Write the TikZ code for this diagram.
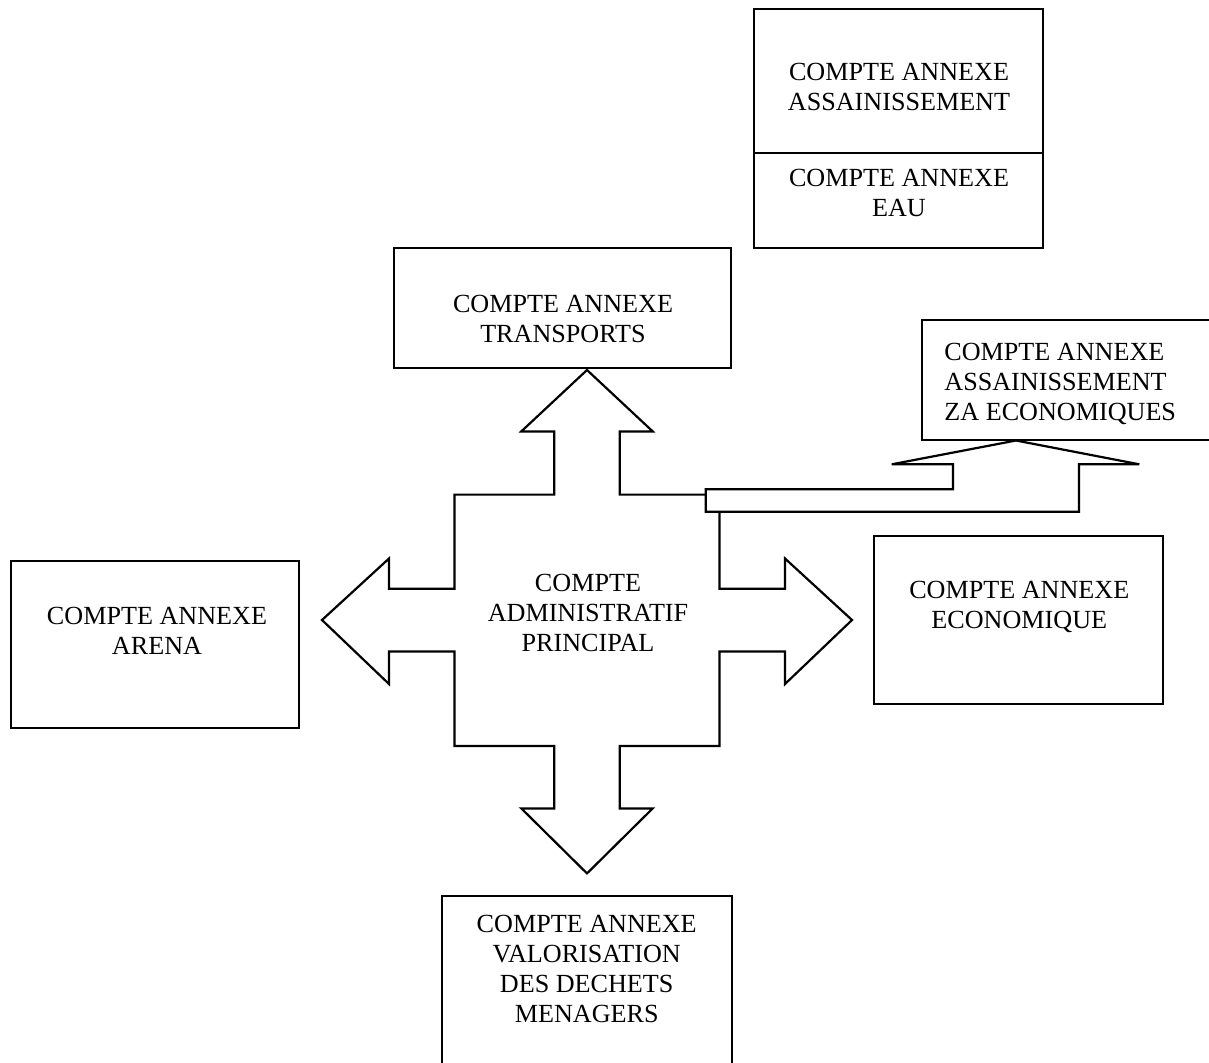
\documentclass[tikz,border=0pt]{standalone}
\usepackage{fontspec}
\setmainfont{Liberation Serif}
\begin{document}
\begin{tikzpicture}[x=0.5pt,y=-0.5pt,
  line width=1.1pt, line join=miter,
  every node/.style={inner sep=0pt, font=\fontsize{13.07pt}{15pt}\selectfont},
  lbl/.style={align=center},
  lblleft/.style={align=left, anchor=north west},
  boxline/.style={draw=black}]
\path[use as bounding box, clip] (0,0) rectangle (1209,1062);
\fill[white] (0,0) rectangle (1209,1062);

% boxes
\draw[boxline] (754,9) rectangle (1043,248);
\draw[boxline] (754,153) -- (1043,153);
\draw[boxline] (394,248) rectangle (731,368);
\draw[boxline] (922,320) rectangle (1225,440);
\draw[boxline] (11,561) rectangle (299,728);
\draw[boxline] (874,536) rectangle (1163,704);
\draw[boxline] (442,896) rectangle (732,1080);

% central cross arrow
\draw[fill=white] (587,370) -- (652.7,431.4) -- (619.7,431.4) -- (619.7,494.6)
  -- (719.5,494.6) -- (719.5,588.7) -- (785,588.7) -- (785,558.5) -- (852,620)
  -- (785,684) -- (785,651.5) -- (719.5,651.5) -- (719.5,746) -- (619.7,746)
  -- (619.7,808.4) -- (652.7,808.4) -- (587,873.4) -- (521.3,808.4)
  -- (554.3,808.4) -- (554.3,746) -- (454.5,746) -- (454.5,651.5) -- (389,651.5)
  -- (389,684) -- (322,620) -- (389,558.5) -- (389,588.7) -- (454.5,588.7)
  -- (454.5,494.6) -- (554.3,494.6) -- (554.3,431.4) -- (521.3,431.4) -- cycle;

% bent arrow to ZA box
\draw[fill=white] (705.7,489.3) -- (953,489.3) -- (953,464.3) -- (891.7,464.3)
  -- (1016,440.5) -- (1139.3,464.3) -- (1079,464.3) -- (1079,511.7)
  -- (705.7,511.7) -- cycle;

% texts
\node[lbl] (assain) at (899,86.5) {COMPTE ANNEXE\\ASSAINISSEMENT};
\node[lbl] (eau) at (899,193) {COMPTE ANNEXE\\EAU};
\node[lbl] (transp) at (563,319) {COMPTE ANNEXE\\TRANSPORTS};
\node[lblleft] (za) at (943.3,341.7) {COMPTE ANNEXE\\ASSAINISSEMENT\\ZA ECONOMIQUES};
\node[lbl] (arena) at (157,631) {COMPTE ANNEXE\\ARENA};
\node[lbl] (eco) at (1019.3,606.7) {COMPTE ANNEXE\\ECONOMIQUE};
\node[lbl] (principal) at (588,612.6) {COMPTE\\ADMINISTRATIF\\PRINCIPAL};
\node[lbl] (valo) at (586.7,969) {COMPTE ANNEXE\\VALORISATION\\DES DECHETS\\MENAGERS};
\end{tikzpicture}
\end{document}
